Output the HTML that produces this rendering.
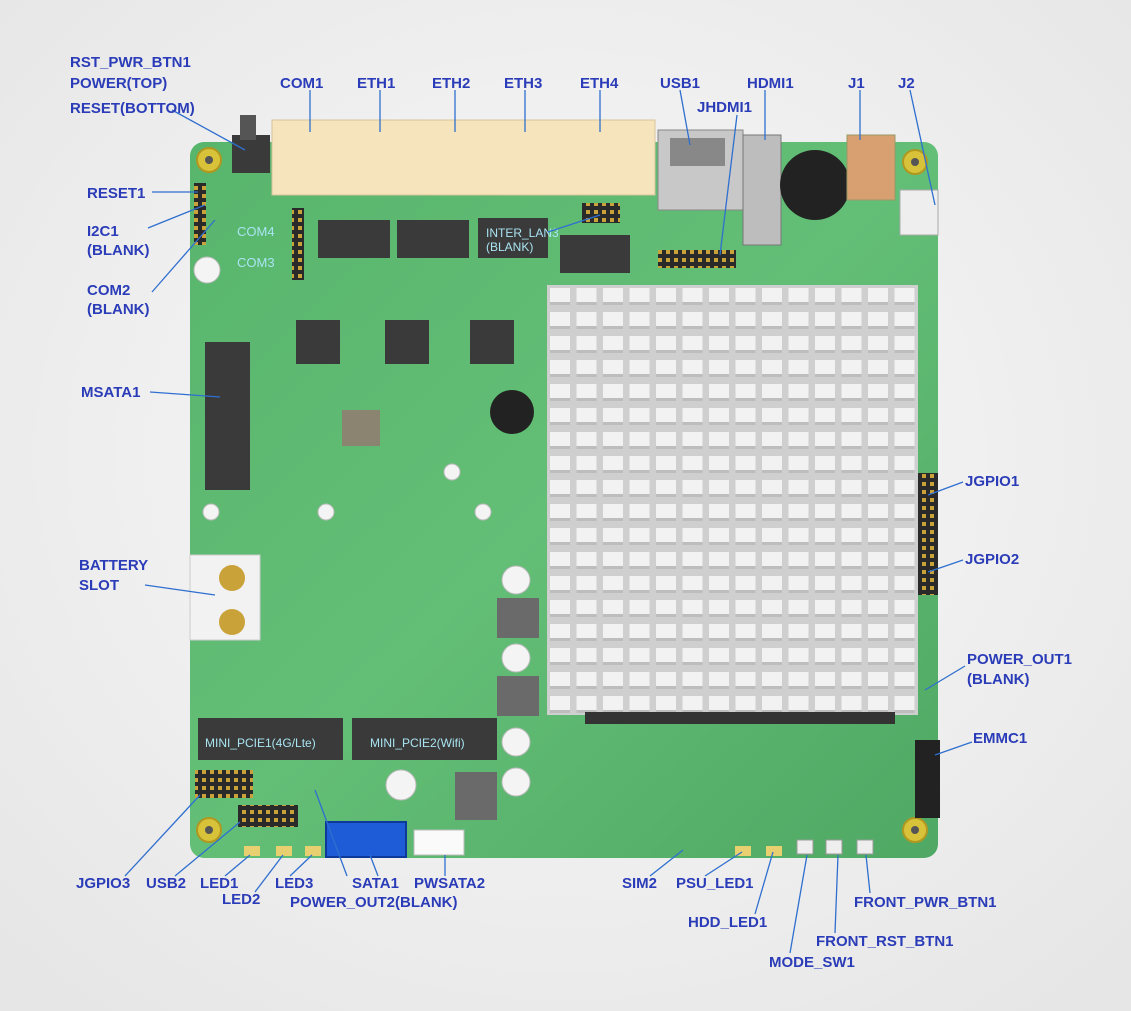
<!DOCTYPE html>
<html><head><meta charset="utf-8"><style>
html,body{margin:0;padding:0;background:#f3f3f3;}
svg{display:block}
text{font-family:"Liberation Sans",sans-serif;font-weight:bold;font-size:15px;fill:#2b3cb8}
.lb{fill:#a9e4f2;font-size:13px;font-weight:normal}
.ll{stroke:#2f6fcf;stroke-width:1.3;fill:none}
</style></head><body>
<svg width="1131" height="1011" viewBox="0 0 1131 1011">
<defs>
<radialGradient id="bg" cx="50%" cy="45%" r="70%"><stop offset="0" stop-color="#fafafa"/><stop offset="1" stop-color="#e6e6e6"/></radialGradient>
<linearGradient id="pcb" x1="0" y1="0" x2="1" y2="1"><stop offset="0" stop-color="#58b56c"/><stop offset="0.5" stop-color="#63be76"/><stop offset="1" stop-color="#4fa863"/></linearGradient>
<pattern id="fins" x="547" y="285" width="26.5" height="24" patternUnits="userSpaceOnUse">
<rect width="26.5" height="24" fill="#cfcfcf"/><rect x="3" y="3" width="20" height="17" fill="#f2f2f2"/><rect x="3" y="17" width="20" height="3" fill="#bdbdbd"/></pattern>
<pattern id="pins" width="8" height="8" patternUnits="userSpaceOnUse"><rect width="8" height="8" fill="#2a2a2a"/><rect x="2" y="2" width="4" height="4" fill="#c9a23a"/></pattern>
</defs>
<rect width="1131" height="1011" fill="url(#bg)"/>
<!-- board -->
<rect x="190" y="142" width="748" height="716" rx="14" fill="url(#pcb)"/>
<!-- mounting holes -->
<g fill="#d8c23a" stroke="#b09820" stroke-width="2">
<circle cx="209" cy="160" r="12"/><circle cx="915" cy="162" r="12"/><circle cx="209" cy="830" r="12"/><circle cx="915" cy="830" r="12"/></g>
<g fill="#555"><circle cx="209" cy="160" r="4"/><circle cx="915" cy="162" r="4"/><circle cx="209" cy="830" r="4"/><circle cx="915" cy="830" r="4"/></g>
<!-- top connectors -->
<rect x="272" y="120" width="383" height="75" fill="#f6e4bc" stroke="#d8c39a"/>
<rect x="232" y="135" width="38" height="38" fill="#3a3a3a"/><rect x="240" y="115" width="16" height="25" fill="#555"/>
<rect x="658" y="130" width="85" height="80" fill="#c8c8c8" stroke="#888"/><rect x="670" y="138" width="55" height="28" fill="#888"/>
<rect x="743" y="135" width="38" height="110" fill="#bdbdbd" stroke="#777"/>
<circle cx="815" cy="185" r="35" fill="#222"/>
<rect x="847" y="135" width="48" height="65" fill="#d8a070" stroke="#996"/>
<rect x="900" y="190" width="38" height="45" fill="#eee" stroke="#aaa"/>
<!-- headers -->
<rect x="194" y="183" width="12" height="62" fill="url(#pins)"/>
<rect x="292" y="208" width="12" height="72" fill="url(#pins)"/>
<rect x="582" y="203" width="38" height="20" fill="url(#pins)"/>
<rect x="658" y="250" width="78" height="18" fill="url(#pins)"/>
<rect x="195" y="770" width="58" height="28" fill="url(#pins)"/>
<rect x="238" y="805" width="60" height="22" fill="url(#pins)"/>
<rect x="918" y="473" width="20" height="122" fill="url(#pins)"/>
<rect x="915" y="740" width="25" height="78" fill="#222"/>
<!-- chips -->
<g fill="#3a3a3a">
<rect x="318" y="220" width="72" height="38"/><rect x="397" y="220" width="72" height="38"/><rect x="478" y="218" width="70" height="40"/><rect x="560" y="235" width="70" height="38"/>
<rect x="296" y="320" width="44" height="44"/><rect x="385" y="320" width="44" height="44"/><rect x="470" y="320" width="44" height="44"/>
<rect x="342" y="410" width="38" height="36" fill="#8a8470"/>
<circle cx="512" cy="412" r="22" fill="#222"/>
<rect x="205" y="342" width="45" height="148"/>
<rect x="497" y="598" width="42" height="40" fill="#6a6a6a"/><rect x="497" y="676" width="42" height="40" fill="#6a6a6a"/><rect x="455" y="772" width="42" height="48" fill="#6a6a6a"/>
<rect x="198" y="718" width="145" height="42"/><rect x="352" y="718" width="145" height="42"/>
</g>
<!-- battery -->
<path d="M190,555 h70 v85 h-70 z" fill="#f2f2f2" stroke="#ccc"/>
<circle cx="232" cy="578" r="13" fill="#c9a23a"/><circle cx="232" cy="622" r="13" fill="#c9a23a"/>
<!-- caps -->
<g fill="#f4f4f4" stroke="#bbb"><circle cx="207" cy="270" r="13"/><circle cx="516" cy="580" r="14"/><circle cx="516" cy="658" r="14"/><circle cx="516" cy="742" r="14"/><circle cx="516" cy="782" r="14"/><circle cx="401" cy="785" r="15"/>
<circle cx="211" cy="512" r="8"/><circle cx="326" cy="512" r="8"/><circle cx="452" cy="472" r="8"/><circle cx="483" cy="512" r="8"/></g>
<!-- heatsink -->
<rect x="547" y="285" width="371" height="430" fill="url(#fins)"/>
<rect x="585" y="712" width="310" height="12" fill="#333"/>
<!-- SATA -->
<rect x="326" y="822" width="80" height="35" fill="#1e5bd6" stroke="#0d3a9a" stroke-width="2"/>
<rect x="414" y="830" width="50" height="25" fill="#fafafa" stroke="#bbb"/>
<g fill="#eee" stroke="#999"><rect x="797" y="840" width="16" height="14"/><rect x="826" y="840" width="16" height="14"/><rect x="857" y="840" width="16" height="14"/></g>
<g fill="#e8d070"><rect x="244" y="846" width="16" height="10"/><rect x="276" y="846" width="16" height="10"/><rect x="305" y="846" width="16" height="10"/><rect x="735" y="846" width="16" height="10"/><rect x="766" y="846" width="16" height="10"/></g>
<!-- board labels -->
<text class="lb" x="237" y="236">COM4</text><text class="lb" x="237" y="267">COM3</text>
<text class="lb" x="486" y="237" style="font-size:12px">INTER_LAN3</text><text class="lb" x="486" y="251" style="font-size:12px">(BLANK)</text>
<text class="lb" x="205" y="747" style="font-size:12px">MINI_PCIE1(4G/Lte)</text><text class="lb" x="370" y="747" style="font-size:12px">MINI_PCIE2(Wifi)</text>
<!-- leader lines -->
<g class="ll">
<path d="M172,110 L245,150"/><path d="M310,90 V132"/><path d="M380,90 V132"/><path d="M455,90 V132"/><path d="M525,90 V132"/><path d="M600,90 V132"/>
<path d="M680,90 L690,145"/><path d="M765,90 V140"/><path d="M860,90 V140"/><path d="M910,90 L935,205"/><path d="M737,115 L720,255"/>
<path d="M152,192 H198"/><path d="M148,228 L205,205"/><path d="M152,292 L215,220"/><path d="M150,392 L220,397"/><path d="M145,585 L215,595"/>
<path d="M600,215 L548,232"/>
<path d="M963,482 L928,495"/><path d="M963,560 L928,572"/><path d="M965,666 L925,690"/><path d="M972,742 L935,755"/>
<path d="M125,876 L200,795"/><path d="M175,876 L240,822"/><path d="M225,876 L250,855"/><path d="M255,892 L283,855"/><path d="M290,876 L312,855"/>
<path d="M347,876 L315,790"/><path d="M378,876 L370,855"/><path d="M445,876 V855"/>
<path d="M650,876 L683,850"/><path d="M705,876 L742,852"/><path d="M755,914 L773,852"/><path d="M790,953 L807,855"/><path d="M835,933 L838,855"/><path d="M870,893 L866,855"/>
</g>
<!-- labels -->
<text x="70" y="67">RST_PWR_BTN1</text><text x="70" y="88">POWER(TOP)</text><text x="70" y="113">RESET(BOTTOM)</text>
<text x="280" y="88">COM1</text><text x="357" y="88">ETH1</text><text x="432" y="88">ETH2</text><text x="504" y="88">ETH3</text><text x="580" y="88">ETH4</text>
<text x="660" y="88">USB1</text><text x="747" y="88">HDMI1</text><text x="848" y="88">J1</text><text x="898" y="88">J2</text><text x="697" y="112">JHDMI1</text>
<text x="87" y="198">RESET1</text><text x="87" y="236">I2C1</text><text x="87" y="255">(BLANK)</text><text x="87" y="295">COM2</text><text x="87" y="314">(BLANK)</text>
<text x="81" y="397">MSATA1</text><text x="79" y="570">BATTERY</text><text x="79" y="590">SLOT</text>
<text x="965" y="486">JGPIO1</text><text x="965" y="564">JGPIO2</text><text x="967" y="664">POWER_OUT1</text><text x="967" y="684">(BLANK)</text><text x="973" y="743">EMMC1</text>
<text x="76" y="888">JGPIO3</text><text x="146" y="888">USB2</text><text x="200" y="888">LED1</text><text x="222" y="904">LED2</text><text x="275" y="888">LED3</text>
<text x="352" y="888">SATA1</text><text x="414" y="888">PWSATA2</text><text x="290" y="907">POWER_OUT2(BLANK)</text>
<text x="622" y="888">SIM2</text><text x="676" y="888">PSU_LED1</text><text x="688" y="927">HDD_LED1</text><text x="769" y="967">MODE_SW1</text><text x="816" y="946">FRONT_RST_BTN1</text><text x="854" y="907">FRONT_PWR_BTN1</text>
</svg>
</body></html>
